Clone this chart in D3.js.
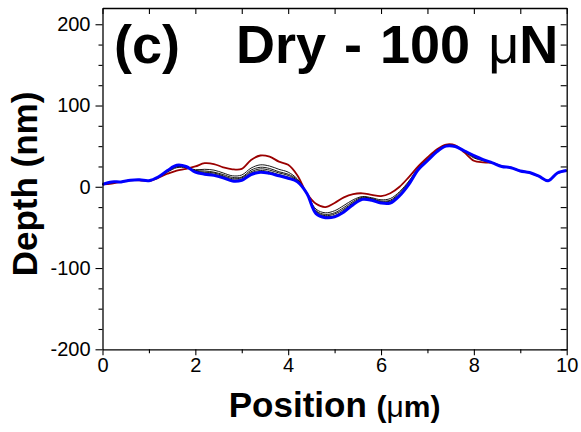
<!DOCTYPE html>
<html>
<head>
<meta charset="utf-8">
<script src="https://cdn.jsdelivr.net/npm/d3@7"></script>
<style>
  html, body { margin: 0; padding: 0; background: #fff; }
  svg { display: block; font-family: "Liberation Sans", Arial, sans-serif; }
</style>
</head>
<body>
<svg id="chart" width="581" height="432"></svg>
<script>
// ---- data ----
const positions = [0.0,0.2,0.4,0.6,0.8,1.0,1.2,1.4,1.6,1.8,2.0,2.2,2.4,2.6,2.8,3.0,3.2,3.4,3.6,3.8,4.0,4.2,4.4,4.6,4.8,5.0,5.2,5.4,5.6,5.8,6.0,6.2,6.4,6.6,6.8,7.0,7.2,7.4,7.6,7.8,8.0,8.2,8.4,8.6,8.8,9.0,9.2,9.4,9.6,9.8,10.0];

const redProfile = [3,4,6,8,8,7,11,16,20,22,25,29,28,24,21.5,22,33,38.5,37,31,27,14,-8,-21,-25,-20,-13,-9,-8,-10,-11.5,-8,0,12,25,36,46,52,51,42,32,30,29.5,25,23.5,19.5,17.5,13,7.5,17,20];

const black1 = [3,5,6,8,8.5,7.5,11.5,18,23.5,23.5,21,21.5,20.5,17,13.5,14.5,23,27,25.5,21.5,18,9.5,-8,-27.5,-32,-29.5,-23,-16,-12,-13.5,-16,-14.5,-6,7,23,34,44.5,51,50,43,35.5,32,29.5,25,23.5,19.5,17.5,13,7.5,17,20];
const black2 = [3,5.5,6,8,8.5,7.5,11.5,19,24.5,24,20,19.5,18,15,11.5,12,20.5,24,22.5,18.5,15.5,8.5,-8,-29.5,-34,-32,-25.5,-18,-13,-14.5,-17.5,-16.5,-7.5,5.5,22,33,44,50.5,50,43.5,36.5,32.5,29.5,25,23.5,19.5,17.5,13,7.5,17,20];
const black3 = [3,5.5,6,8,8.5,7.5,12,19,25,24.5,19.5,18,17,13.5,10,11,18.5,22,20.5,17,14,7.5,-8,-30.5,-35.5,-33.5,-27.5,-19.5,-14,-15,-18.5,-17.5,-9,5,22,33,43.5,50.5,50,43.5,37,33,29.5,25,23.5,19.5,17.5,13,7.5,17,20];
const black4 = [3,6,6,8,8.5,7.5,12,19.5,26,24.5,18.5,17,15.5,12.5,8.5,9.5,17,20,18.5,15,12,7,-8,-32,-36.5,-35.5,-29,-20.5,-14.5,-16,-19,-19,-10,4,21.5,32.5,43.5,50,49.5,44,38,33,29.5,25,23.5,19.5,17.5,13,7.5,17,20];

const blueProfile = [3,6,6,8,8.5,7.5,12,20,26.5,25,18,15.5,14,11,7,8,15,18,16.5,13.5,10.5,6,-8,-33,-38,-37,-31,-22,-15.5,-16.5,-20,-20,-11,3,21,32,43,50,49.5,44,38.5,33.5,29.5,25,23.5,19.5,17.5,13,7.5,17,20];

const xTicksMajor = [0,2,4,6,8,10];
const xTicksMinor = [1,3,5,7,9];
const xTicksTop = [0,1,2,3,4,5,6,7,8,9,10];
const yTicksMajor = [-200,-100,0,100,200];
const yTicksMinor = [-175,-150,-125,-75,-50,-25,25,50,75,125,150,175];

// ---- layout ----
const svg = d3.select("#chart");
const mLeft = 102.5, mRight = 566.7, mTop = 8, mBottom = 349.3;
const x = d3.scaleLinear().domain([0, 10]).range([mLeft, mRight]);
const y = d3.scaleLinear().domain([-200, 220]).range([mBottom, mTop]);
const plainFmt = d => String(d);

svg.append("rect").attr("width", 581).attr("height", 432).attr("fill", "#fff");

const series = [
  { v: redProfile, color: "#9a0000", w: 1.8 },
  { v: black1, color: "#000", w: 0.9 },
  { v: black2, color: "#000", w: 0.9 },
  { v: black3, color: "#000", w: 0.9 },
  { v: black4, color: "#000", w: 0.9 },
  { v: blueProfile, color: "#0000ff", w: 3 }
];

const line = d3.line()
  .x((d, i) => x(positions[i]))
  .y(d => y(d))
  .curve(d3.curveCatmullRom.alpha(0.5));

const g = svg.append("g");
series.forEach(s => {
  g.append("path").attr("d", line(s.v))
    .attr("fill", "none").attr("stroke", s.color)
    .attr("stroke-width", s.w).attr("stroke-linejoin", "round");
});

// ---- axes ----
const axisStroke = 1.3;
function styleAxis(sel) {
  sel.selectAll("path.domain").attr("stroke", "#000").attr("stroke-width", axisStroke);
  sel.selectAll(".tick line").attr("stroke", "#000").attr("stroke-width", 1.1);
}

// bottom major
const bx = svg.append("g").attr("transform", `translate(0,${mBottom})`)
  .call(d3.axisBottom(x).tickValues(xTicksMajor).tickSize(6).tickSizeOuter(0).tickPadding(3).tickFormat(plainFmt));
styleAxis(bx);
bx.selectAll("text").attr("font-size", 20).attr("fill", "#000").attr("font-family", "Liberation Sans, Arial, sans-serif");
// bottom minor
const bxm = svg.append("g").attr("transform", `translate(0,${mBottom})`)
  .call(d3.axisBottom(x).tickValues(xTicksMinor).tickSize(4).tickFormat(""));
bxm.select("path.domain").remove();
styleAxis(bxm);

// top (inward)
const tx = svg.append("g").attr("transform", `translate(0,${mTop})`)
  .call(d3.axisBottom(x).tickValues(xTicksTop).tickSize(6).tickSizeOuter(0).tickFormat(""));
styleAxis(tx);

// left major
const ly = svg.append("g").attr("transform", `translate(${mLeft},0)`)
  .call(d3.axisLeft(y).tickValues(yTicksMajor).tickSize(7).tickSizeOuter(0).tickPadding(5).tickFormat(plainFmt));
styleAxis(ly);
ly.selectAll("text").attr("font-size", 20).attr("fill", "#000").attr("font-family", "Liberation Sans, Arial, sans-serif");
// left minor
const lym = svg.append("g").attr("transform", `translate(${mLeft},0)`)
  .call(d3.axisLeft(y).tickValues(yTicksMinor).tickSize(4).tickFormat(""));
lym.select("path.domain").remove();
styleAxis(lym);

// right (inward)
const ry = svg.append("g").attr("transform", `translate(${mRight},0)`)
  .call(d3.axisLeft(y).tickValues(yTicksMajor.concat(yTicksMinor)).tickSize(6).tickSizeOuter(0).tickFormat(""));
styleAxis(ry);

// ---- labels ----
const title = svg.append("text").attr("y", 63).attr("font-weight", "bold").attr("font-size", 54).attr("fill", "#000");
title.append("tspan").attr("x", 114).text("(c)");
const t2 = svg.append("text").attr("x", 236).attr("y", 63).attr("font-weight", "bold").attr("font-size", 54)
  .attr("word-spacing", 3).attr("fill", "#000");
t2.append("tspan").text("Dry - 100 ");
t2.append("tspan").attr("font-weight", "normal").attr("font-size", 54).text("μ");
t2.append("tspan").text("N");

svg.append("text")
  .attr("transform", "translate(37,184) rotate(-90)")
  .attr("text-anchor", "middle")
  .attr("font-weight", "bold").attr("font-size", 35).attr("fill", "#000")
  .text("Depth (nm)");

const xl = svg.append("text").attr("x", (mLeft + mRight) / 2).attr("y", 417)
  .attr("text-anchor", "middle").attr("font-weight", "bold").attr("font-size", 35).attr("fill", "#000");
xl.append("tspan").text("Position ");
xl.append("tspan").attr("font-size", 30).text("(");
xl.append("tspan").attr("font-size", 30).attr("font-weight", "normal").text("μ");
xl.append("tspan").attr("font-size", 30).text("m)");
</script>
</body>
</html>
